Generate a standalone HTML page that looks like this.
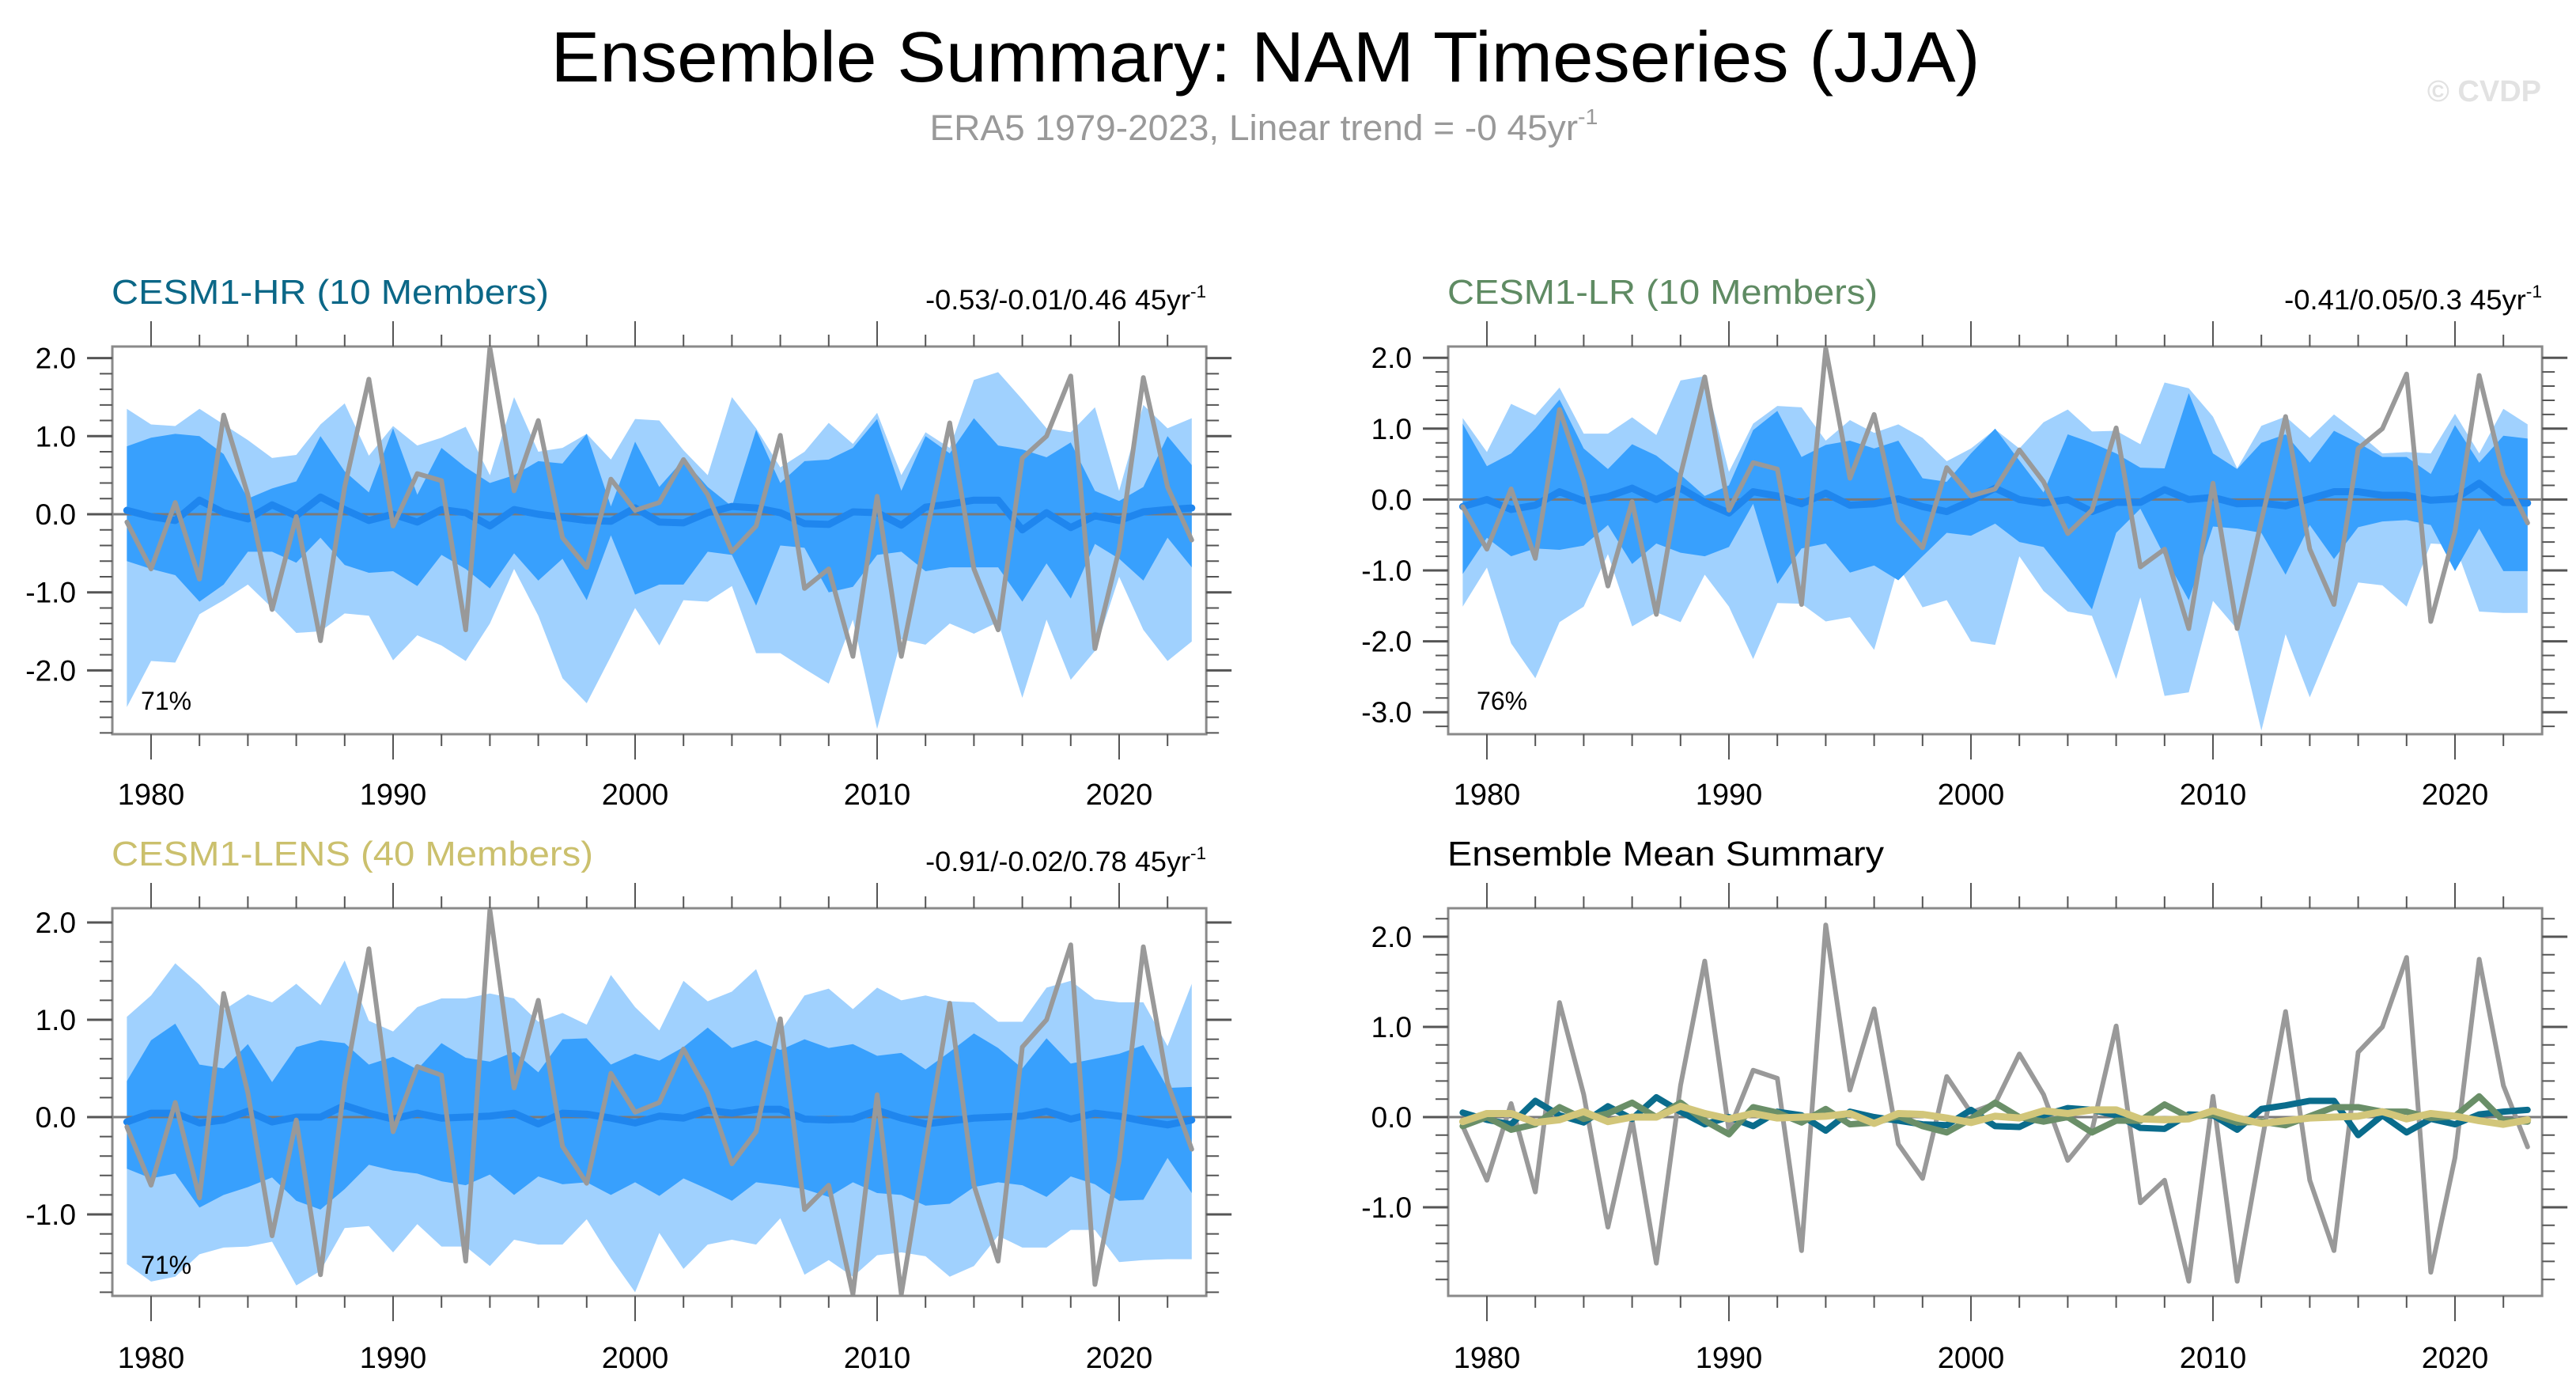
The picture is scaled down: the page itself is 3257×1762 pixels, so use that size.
<!DOCTYPE html>
<html><head><meta charset="utf-8"><style>
html,body{margin:0;padding:0;background:#fff;width:3257px;height:1762px;overflow:hidden}
svg text{font-family:"Liberation Sans",sans-serif}
</style></head><body>
<svg id="root" width="3257" height="1762" viewBox="0 0 3257 1762" xmlns="http://www.w3.org/2000/svg">
<text x="1600" y="103" text-anchor="middle" font-size="90" textLength="1807" lengthAdjust="spacingAndGlyphs" fill="#000">Ensemble Summary: NAM Timeseries (JJA)</text>
<text x="1598" y="177" text-anchor="middle" font-size="45" fill="#999" textLength="845" lengthAdjust="spacingAndGlyphs">ERA5 1979-2023, Linear trend = -0 45yr<tspan font-size="28" dy="-20">-1</tspan></text>
<text x="3213" y="128" text-anchor="end" font-size="38" font-weight="bold" fill="#e2e2e2">© CVDP</text>
<g id="plots"></g>
</svg>
<script>
const years=[];for(let y=1979;y<=2023;y++)years.push(y);
const obs=[-0.1,-0.7,0.15,-0.83,1.27,0.25,-1.22,-0.03,-1.62,0.35,1.73,-0.15,0.52,0.43,-1.48,2.13,0.3,1.2,-0.3,-0.68,0.45,0.05,0.15,0.7,0.25,-0.48,-0.15,1.01,-0.95,-0.7,-1.82,0.23,-1.82,-0.3,1.17,-0.7,-1.48,0.72,1.0,1.77,-1.72,-0.45,1.75,0.35,-0.33];
const hrMean=[0.05,-0.03,-0.08,0.18,0.02,-0.06,0.12,-0.02,0.22,0.06,-0.08,0.0,-0.1,0.06,0.02,-0.15,0.06,0.0,-0.04,-0.08,-0.09,0.08,-0.1,-0.11,0.02,0.1,0.08,0.02,-0.12,-0.13,0.03,0.02,-0.14,0.09,0.13,0.18,0.18,-0.2,0.02,-0.17,-0.02,-0.08,0.03,0.06,0.08];
const hrLightHi=[1.35,1.15,1.13,1.35,1.15,0.95,0.72,0.76,1.15,1.42,0.75,1.13,0.88,0.98,1.12,0.5,1.5,0.8,0.85,1.03,0.7,1.22,1.2,0.82,0.5,1.5,1.1,0.6,0.8,1.17,0.9,1.3,0.5,1.05,0.85,1.72,1.82,1.47,1.1,1.05,1.37,0.3,1.4,1.1,1.23];
const hrDarkHi=[0.87,0.98,1.03,1.0,0.77,0.2,0.33,0.42,1.0,0.55,0.28,1.1,0.25,0.85,0.6,0.4,0.5,0.68,0.65,1.03,0.1,0.93,0.35,0.7,0.35,0.1,1.08,0.4,0.68,0.7,0.85,1.22,0.3,1.0,0.78,1.23,0.88,0.83,0.73,0.92,0.3,0.17,0.35,1.0,0.63];
const hrDarkLo=[-0.6,-0.7,-0.78,-1.12,-0.9,-0.48,-0.48,-0.62,-0.3,-0.65,-0.75,-0.73,-0.92,-0.52,-0.7,-0.95,-0.5,-0.85,-0.57,-1.1,-0.27,-1.03,-0.9,-0.9,-0.48,-0.52,-1.17,-0.4,-0.43,-1.0,-0.93,-0.52,-0.48,-0.73,-0.68,-0.68,-0.68,-1.12,-0.63,-1.08,-0.38,-0.57,-0.85,-0.3,-0.68];
const hrLightLo=[-2.47,-1.88,-1.9,-1.28,-1.1,-0.9,-1.2,-1.52,-1.5,-1.27,-1.3,-1.87,-1.55,-1.68,-1.88,-1.4,-0.7,-1.3,-2.1,-2.42,-1.82,-1.2,-1.68,-1.1,-1.12,-0.92,-1.78,-1.78,-1.98,-2.17,-1.35,-2.75,-1.6,-1.67,-1.4,-1.53,-1.38,-2.35,-1.35,-2.12,-1.75,-0.8,-1.48,-1.88,-1.63];
const lrMean=[-0.1,0.0,-0.14,-0.08,0.11,-0.02,0.04,0.16,0.0,0.16,-0.04,-0.19,0.11,0.05,-0.06,0.09,-0.08,-0.06,0.01,-0.1,-0.17,-0.02,0.16,0.0,-0.05,0.0,-0.17,-0.04,-0.04,0.14,0.0,0.03,-0.06,-0.05,-0.09,0.01,0.11,0.11,0.06,0.06,-0.01,0.01,0.23,-0.04,-0.05];
const lrLightHi=[1.15,0.67,1.35,1.19,1.58,0.93,0.93,1.16,0.91,1.68,1.74,0.39,1.07,1.32,1.3,0.83,1.12,0.94,1.06,0.87,0.54,0.72,0.99,0.72,1.09,1.27,0.96,0.97,0.78,1.65,1.57,1.17,0.44,1.04,1.17,0.87,1.2,0.94,0.65,0.67,0.65,1.21,0.65,1.28,1.06];
const lrDarkHi=[1.07,0.47,0.65,1.0,1.41,0.72,0.43,0.78,0.62,0.35,0.05,0.2,0.98,1.25,0.6,0.77,0.83,0.72,0.83,0.3,0.25,0.65,1.0,0.55,0.1,0.92,0.8,0.65,0.45,0.44,1.5,0.65,0.43,0.8,0.92,0.52,0.97,0.8,0.6,0.6,0.36,1.05,0.52,0.9,0.86];
const lrDarkLo=[-1.05,-0.54,-0.8,-0.69,-0.71,-0.65,-0.36,-0.91,-0.62,-0.75,-0.8,-0.67,-0.06,-1.19,-0.69,-0.62,-1.03,-0.93,-1.14,-0.8,-0.47,-0.51,-0.34,-0.6,-0.67,-1.1,-1.55,-0.47,-0.13,-0.8,-1.42,-0.38,-0.41,-0.47,-1.06,-0.36,-0.84,-0.39,-0.31,-0.29,-0.36,-1.01,-0.41,-1.01,-1.01];
const lrLightLo=[-1.51,-0.96,-2.03,-2.52,-1.73,-1.51,-0.77,-1.79,-1.59,-1.73,-1.06,-1.51,-2.25,-1.46,-1.47,-1.72,-1.66,-2.12,-0.94,-1.52,-1.42,-2.0,-2.05,-0.8,-1.29,-1.58,-1.64,-2.53,-1.38,-2.77,-2.72,-1.43,-1.83,-3.26,-1.9,-2.79,-1.97,-1.17,-1.21,-1.51,-0.62,-0.64,-1.58,-1.6,-1.6];
const lensMean=[-0.05,0.04,0.04,-0.06,-0.03,0.06,-0.05,0.0,0.0,0.12,0.04,-0.02,0.04,-0.01,0.0,0.01,0.04,-0.07,0.04,0.03,-0.01,-0.06,0.01,-0.01,0.07,0.04,0.08,0.08,-0.02,-0.03,-0.02,0.07,-0.01,-0.07,-0.04,-0.01,0.0,0.01,0.06,-0.02,0.04,0.01,-0.04,-0.08,-0.03];
const lensLightHi=[1.03,1.25,1.58,1.36,1.1,1.26,1.18,1.37,1.15,1.61,0.99,0.88,1.13,1.22,1.22,1.27,1.22,0.98,1.07,0.95,1.46,1.13,0.89,1.4,1.19,1.29,1.52,0.88,1.25,1.32,1.11,1.33,1.2,1.25,1.19,1.18,0.98,0.98,1.33,1.4,1.21,1.18,1.18,0.73,1.37];
const lensDarkHi=[0.37,0.79,0.96,0.54,0.5,0.75,0.36,0.72,0.79,0.76,0.54,0.62,0.49,0.76,0.61,0.57,0.67,0.46,0.8,0.81,0.54,0.65,0.58,0.72,0.92,0.71,0.79,0.69,0.8,0.71,0.75,0.63,0.66,0.49,0.67,0.86,0.71,0.5,0.81,0.55,0.6,0.65,0.74,0.3,0.31];
const lensDarkLo=[-0.53,-0.63,-0.58,-0.93,-0.8,-0.72,-0.62,-0.86,-0.95,-0.74,-0.49,-0.55,-0.58,-0.66,-0.7,-0.59,-0.8,-0.61,-0.69,-0.67,-0.8,-0.67,-0.81,-0.63,-0.74,-0.86,-0.67,-0.7,-0.74,-0.82,-0.67,-0.78,-0.8,-0.91,-0.89,-0.72,-0.67,-0.7,-0.82,-0.61,-0.69,-0.86,-0.85,-0.42,-0.78];
const lensLightLo=[-1.51,-1.69,-1.64,-1.41,-1.34,-1.33,-1.28,-1.73,-1.58,-1.14,-1.12,-1.39,-1.1,-1.33,-1.33,-1.53,-1.26,-1.31,-1.31,-1.05,-1.45,-1.8,-1.19,-1.56,-1.31,-1.26,-1.31,-1.04,-1.62,-1.47,-1.64,-1.42,-1.39,-1.43,-1.64,-1.53,-1.22,-1.34,-1.34,-1.16,-1.16,-1.49,-1.47,-1.46,-1.46];
const xTickLabels=[1980,1990,2000,2010,2020];

const NS="http://www.w3.org/2000/svg";
const root=document.getElementById('plots');
function mk(tag,attrs,parent){const e=document.createElementNS(NS,tag);for(const k in attrs)e.setAttribute(k,attrs[k]);(parent||root).appendChild(e);return e;}

function panel(cfg){
  const g=mk('g',{});
  
  
  const X=y=>cfg.x0+(y-1980)*cfg.dx;
  const Y=v=>cfg.z0-v*cfg.u;
  const L=X(1978.4),R=X(2023.6),T=cfg.top,B=cfg.bot;
  const vTop=(cfg.z0-T)/cfg.u,vBot=(cfg.z0-B)/cfg.u;
  function band(hi,lo,col,nm){
    let d='M'+years.map((y,i)=>X(y)+','+Y(hi[i])).join('L');
    for(let i=years.length-1;i>=0;i--)d+='L'+X(years[i])+','+Y(lo[i]);
    const p=mk('path',{d:d+'Z',fill:col},g);
    
    
  }
  function line(vals,col,w,nm){
    const p=mk('polyline',{points:years.map((y,i)=>X(y)+','+Y(vals[i])).join(' '),fill:'none',stroke:col,'stroke-width':w,'stroke-linejoin':'round','stroke-linecap':'round'},g);
    
    
  }
  if(cfg.bands){
    band(cfg.bands[0],cfg.bands[3],'#a0d1fe',cfg.key+'-outer-band');
    band(cfg.bands[1],cfg.bands[2],'#38a0fd',cfg.key+'-inner-band');
  }
  const zl=mk('line',{x1:L,x2:R,y1:Y(0),y2:Y(0),stroke:'#7a7a7a','stroke-width':3},g);
  
  
  if(cfg.bands){
    line(cfg.mean,'#1f86ee',9,cfg.key+'-ensemble-mean-line');
    line(obs,'#999999',6,'era5-observed-line');
  } else {
    line(obs,'#999999',6,'era5-observed-line');
    line(hrMean,'#0a6c8c',8,'cesm1-hr-mean-line');
    line(lrMean,'#6a8f68',8,'cesm1-lr-mean-line');
    line(lensMean,'#d2c67a',9,'cesm1-lens-mean-line');
  }
  const box=mk('rect',{x:L,y:T,width:R-L,height:B-T,fill:'none',stroke:'#8a8a8a','stroke-width':3},g);
  
  
  for(let y=1980;y<=2022;y+=2){
    const maj=(y%10===0),len=maj?32:15,xx=X(y);
    mk('line',{x1:xx,x2:xx,y1:T,y2:T-len,stroke:'#555','stroke-width':2},g);
    mk('line',{x1:xx,x2:xx,y1:B,y2:B+len,stroke:'#555','stroke-width':2},g);
  }
  xTickLabels.forEach(y=>{
    const t=mk('text',{x:X(y),y:cfg.xly,'text-anchor':'middle','font-size':38,fill:'#000'},g);
    t.textContent=y;
    
    
  });
  for(let k=Math.ceil(vBot*5);k<=Math.floor(vTop*5);k++){
    const v=k/5,maj=(k%5===0),len=maj?32:16,yy=Y(v);
    mk('line',{x1:L,x2:L-len,y1:yy,y2:yy,stroke:'#555','stroke-width':maj?3:2},g);
    mk('line',{x1:R,x2:R+len,y1:yy,y2:yy,stroke:'#555','stroke-width':maj?3:2},g);
    if(maj){
      const t=mk('text',{x:L-46,y:yy+13,'text-anchor':'end','font-size':37,fill:'#000'},g);
      t.textContent=v.toFixed(1);
      
      
    }
  }
  const tt=mk('text',{x:L-1,y:T-54,'font-size':44,fill:cfg.tcol,textLength:cfg.tlen,lengthAdjust:'spacingAndGlyphs'},g);
  tt.textContent=cfg.title;
  
  
  if(cfg.rlab){
    const rt=mk('text',{x:R-cfg.rlen,y:T-47,'font-size':35,fill:'#000',textLength:cfg.rlen,lengthAdjust:'spacingAndGlyphs'},g);
    rt.textContent=cfg.rlab;
    const sp=mk('tspan',{'font-size':22,dy:-15},rt);sp.textContent='-1';
    
    
  }
  if(cfg.pct){
    const pt=mk('text',{x:L+36,y:cfg.pcty,'font-size':32,fill:'#000'},g);
    pt.textContent=cfg.pct;
    
    
  }
}
panel({name:'cesm1-hr-panel',key:'hr',x0:191,dx:30.6,z0:650,u:98.7,top:438,bot:928,xly:1017,
  bands:[hrLightHi,hrDarkHi,hrDarkLo,hrLightLo],mean:hrMean,title:'CESM1-HR (10 Members)',tcol:'#0b6787',tlen:553,
  rlab:'-0.53/-0.01/0.46 45yr',rlen:355,pct:'71%',pcty:897});
panel({name:'cesm1-lr-panel',key:'lr',x0:1880,dx:30.6,z0:631.4,u:89.6,top:438,bot:928,xly:1017,
  bands:[lrLightHi,lrDarkHi,lrDarkLo,lrLightLo],mean:lrMean,title:'CESM1-LR (10 Members)',tcol:'#5f8b63',tlen:544,
  rlab:'-0.41/0.05/0.3 45yr',rlen:326,pct:'76%',pcty:897});
panel({name:'cesm1-lens-panel',key:'lens',x0:191,dx:30.6,z0:1412,u:123,top:1148,bot:1638,xly:1729,
  bands:[lensLightHi,lensDarkHi,lensDarkLo,lensLightLo],mean:lensMean,title:'CESM1-LENS (40 Members)',tcol:'#cbc06d',tlen:609,
  rlab:'-0.91/-0.02/0.78 45yr',rlen:355,pct:'71%',pcty:1610});
panel({name:'ensemble-mean-summary-panel',key:'summary',x0:1880,dx:30.6,z0:1412,u:114,top:1148,bot:1638,xly:1729,
  bands:null,title:'Ensemble Mean Summary',tcol:'#000',tlen:552});
</script>
</body></html>
